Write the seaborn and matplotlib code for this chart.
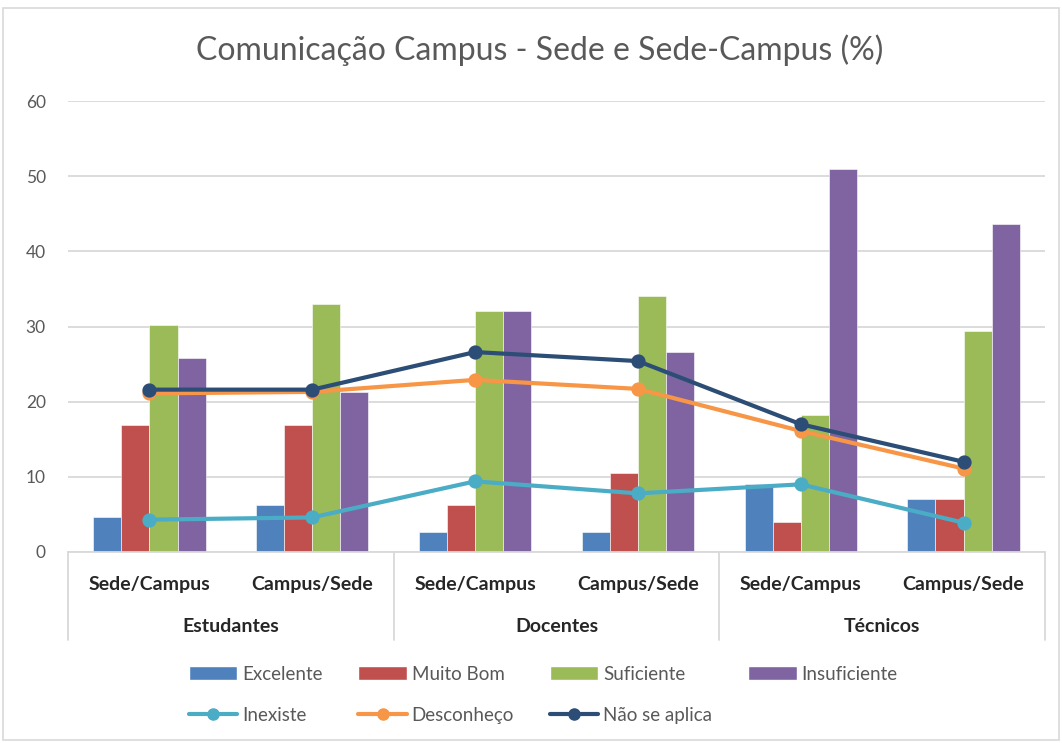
import pandas as pd
import matplotlib.pyplot as plt
import seaborn as sns
from matplotlib.patches import Patch, Rectangle
from matplotlib.lines import Line2D
import matplotlib.transforms as mtransforms

# data (%)
groups = ["Estudantes", "Docentes", "Técnicos"]
directions = ["Sede/Campus", "Campus/Sede"]

excelente = [4.7, 6.2, 2.6, 2.6, 9.0, 7.1]
muito_bom = [16.9, 16.9, 6.3, 10.5, 4.0, 7.1]
suficiente = [30.2, 33.0, 32.0, 34.1, 18.2, 29.4]
insuficiente = [25.8, 21.3, 32.0, 26.6, 50.9, 43.7]

inexiste = [4.3, 4.6, 9.4, 7.8, 9.0, 3.9]
desconheco = [21.1, 21.3, 22.9, 21.7, 16.1, 11.1]
nao_se_aplica = [21.6, 21.6, 26.6, 25.4, 17.0, 12.0]

bar_series = {"Excelente": excelente, "Muito Bom": muito_bom,
              "Suficiente": suficiente, "Insuficiente": insuficiente}
line_series = {"Inexiste": inexiste, "Desconheço": desconheco,
               "Não se aplica": nao_se_aplica}

bar_colors = {"Excelente": "#4F81BD", "Muito Bom": "#C0504D",
              "Suficiente": "#9BBB59", "Insuficiente": "#8064A2"}
line_colors = {"Inexiste": "#4BACC6", "Desconheço": "#F79646",
               "Não se aplica": "#2C4D75"}

keys = [f"{g}|{d}" for g in groups for d in directions]

bars_df = pd.DataFrame([(k, s, v) for s, vals in bar_series.items()
                        for k, v in zip(keys, vals)],
                       columns=["cat", "serie", "valor"])
lines_df = pd.DataFrame([(k, s, v) for s, vals in line_series.items()
                         for k, v in zip(keys, vals)],
                        columns=["cat", "serie", "valor"])

sns.set_style("white")
plt.rcParams["font.family"] = ["Lato", "DejaVu Sans"]

fig = plt.figure(figsize=(10.62, 7.43), dpi=100)
ax = fig.add_axes([68 / 1062, 1 - 552 / 743, (1045 - 68) / 1062, (552 - 101) / 743])

sns.barplot(data=bars_df, x="cat", y="valor", hue="serie", order=keys,
            hue_order=list(bar_series), palette=bar_colors, width=0.69,
            saturation=1, errorbar=None, legend=False, ax=ax, zorder=2,
            edgecolor="white", linewidth=0.4)
sns.pointplot(data=lines_df, x="cat", y="valor", hue="serie", order=keys,
              hue_order=list(line_series), palette=line_colors,
              markers="o", errorbar=None, legend=False, ax=ax,
              markersize=8, linewidth=3)
for coll in ax.collections:
    coll.set_zorder(4)
for ln in ax.lines:
    ln.set_zorder(4)

ax.set_xlim(-0.5, 5.5)
ax.set_ylim(0, 60)
ax.set_yticks(range(0, 61, 10))
ax.yaxis.grid(True, color="#D9D9D9", linewidth=1.3, zorder=0)
ax.set_axisbelow(True)
for side in ["left", "right", "top"]:
    ax.spines[side].set_visible(False)
ax.spines["bottom"].set_color("#D9D9D9")
ax.spines["bottom"].set_linewidth(1.3)
ax.tick_params(axis="y", length=0, labelsize=12.5, labelcolor="#595959", pad=16)
ax.tick_params(axis="x", length=0, labelsize=14, pad=17)
ax.set_xticks(range(len(keys)))
ax.set_xticklabels([k.split("|")[1] for k in keys], fontweight="bold")
ax.set_xlabel("")
ax.set_ylabel("")

# group labels and separators under the axis
trans = mtransforms.blended_transform_factory(ax.transData, ax.transAxes)
for i, g in enumerate(groups):
    ax.text(2 * i + 0.5, -74 / 451, g, transform=trans, ha="center",
            va="center", fontsize=14, fontweight="bold")
for xs in [-0.5, 1.5, 3.5, 5.5]:
    ax.add_line(Line2D([xs, xs], [0, -88 / 451], transform=trans,
                       color="#D9D9D9", linewidth=1.3, clip_on=False))

fig.text(540 / 1062, 1 - 50 / 743, "Comunicação Campus - Sede e Sede-Campus (%)",
         ha="center", va="center", fontsize=23, color="#595959")

# legend, row-major order via column-major fill
handles = []
for b, l in [("Excelente", "Inexiste"), ("Muito Bom", "Desconheço"),
             ("Suficiente", "Não se aplica")]:
    handles.append(Patch(facecolor=bar_colors[b], label=b))
    handles.append(Line2D([], [], color=line_colors[l], linewidth=3,
                          marker="o", markersize=8, label=l))
handles.append(Patch(facecolor=bar_colors["Insuficiente"], label="Insuficiente"))
fig.legend(handles=handles, loc="center", bbox_to_anchor=(543 / 1062, 1 - 695 / 743),
           ncol=4, frameon=False, fontsize=13.5, handlelength=2.6,
           handleheight=0.8, columnspacing=1.9, handletextpad=0.25,
           labelcolor="#595959", labelspacing=1.3)

fig.patches.append(Rectangle((3 / 1062, 3 / 743), 1 - 6 / 1062, 1 - 11 / 743,
                             transform=fig.transFigure, fill=False,
                             edgecolor="#D9D9D9", linewidth=1.2))

fig.savefig("out.png", dpi=100)
